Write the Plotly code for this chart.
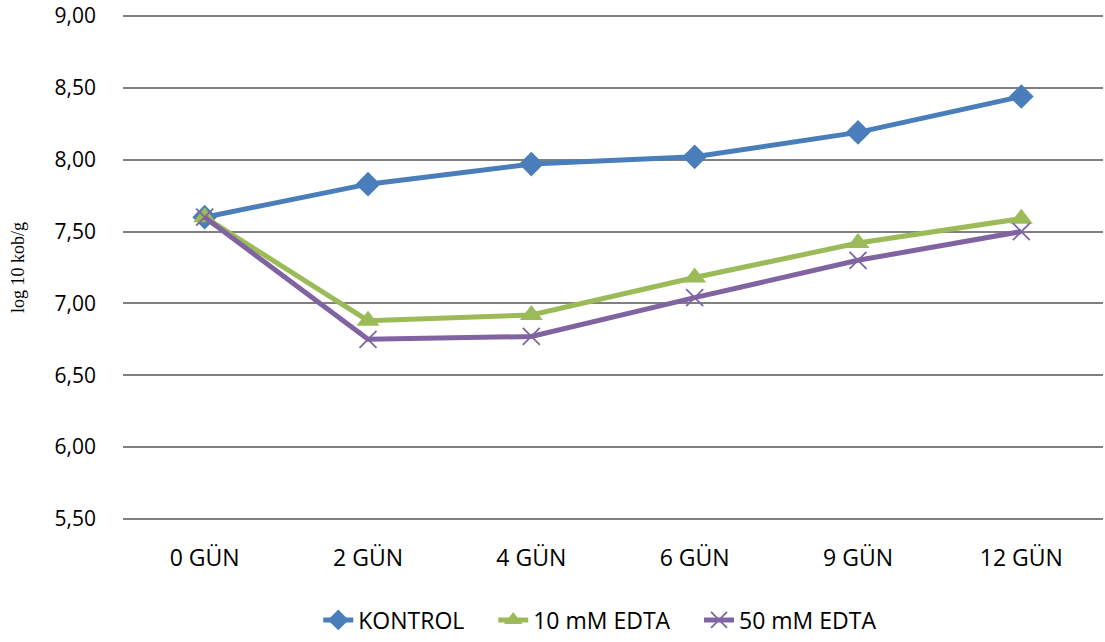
import plotly.graph_objects as go

categories = ["0 GÜN", "2 GÜN", "4 GÜN", "6 GÜN", "9 GÜN", "12 GÜN"]
kontrol = [7.60, 7.83, 7.97, 8.02, 8.19, 8.44]
edta10 = [7.60, 6.88, 6.92, 7.18, 7.42, 7.59]
edta50 = [7.60, 6.75, 6.77, 7.04, 7.30, 7.50]
y_ticks = [5.5, 6.0, 6.5, 7.0, 7.5, 8.0, 8.5, 9.0]
y_ticklabels = ["5,50", "6,00", "6,50", "7,00", "7,50", "8,00", "8,50", "9,00"]
series_names = ["KONTROL", "10 mM EDTA", "50 mM EDTA"]

NB = "\u00a0"
fig = go.Figure()
fig.add_trace(go.Scatter(x=categories, y=kontrol, name=series_names[0] + NB * 4, mode="lines+markers",
                         line=dict(color="#4A7EBB", width=5),
                         marker=dict(symbol="diamond", size=19, color="#4A7EBB")))
fig.add_trace(go.Scatter(x=categories, y=edta10, name=series_names[1] + NB * 4, mode="lines+markers",
                         line=dict(color="#9BBB59", width=5),
                         marker=dict(symbol="triangle-up", size=20, color="#9BBB59")))
fig.add_trace(go.Scatter(x=categories, y=edta50, name=series_names[2], mode="lines+markers",
                         line=dict(color="#8064A2", width=5),
                         marker=dict(symbol="x-thin", size=17, color="#8064A2",
                                     line=dict(color="#8064A2", width=1.8))))

fig.update_layout(
    width=1105, height=642,
    margin=dict(l=123, r=2, t=15, b=121),
    plot_bgcolor="white", paper_bgcolor="white",
    font=dict(family="Open Sans, Liberation Sans, sans-serif", size=19, color="#000000"),
    showlegend=True,
    legend=dict(orientation="h", x=0.487, xanchor="center", y=-0.238, yanchor="bottom",
                font=dict(size=23), tracegroupgap=0),
    xaxis=dict(type="category", range=[-0.5, 5.5], showgrid=False, showline=False,
               ticks="", tickfont=dict(size=23), ticklabelstandoff=22),
    yaxis=dict(range=[5.493, 9.007], tickvals=y_ticks, ticktext=y_ticklabels,
               showgrid=True, gridcolor="#808080", gridwidth=1.6, zeroline=False,
               showline=False, ticks="", tickfont=dict(size=21),
               ticklabelstandoff=26,
               title=dict(text="log 10 kob/g", font=dict(family="Liberation Serif, serif", size=18),
                          standoff=25)),
)
fig.write_html("out.html", config={"displayModeBar": False},
               post_script="document.body.style.margin='0';document.body.style.overflow='hidden';")
